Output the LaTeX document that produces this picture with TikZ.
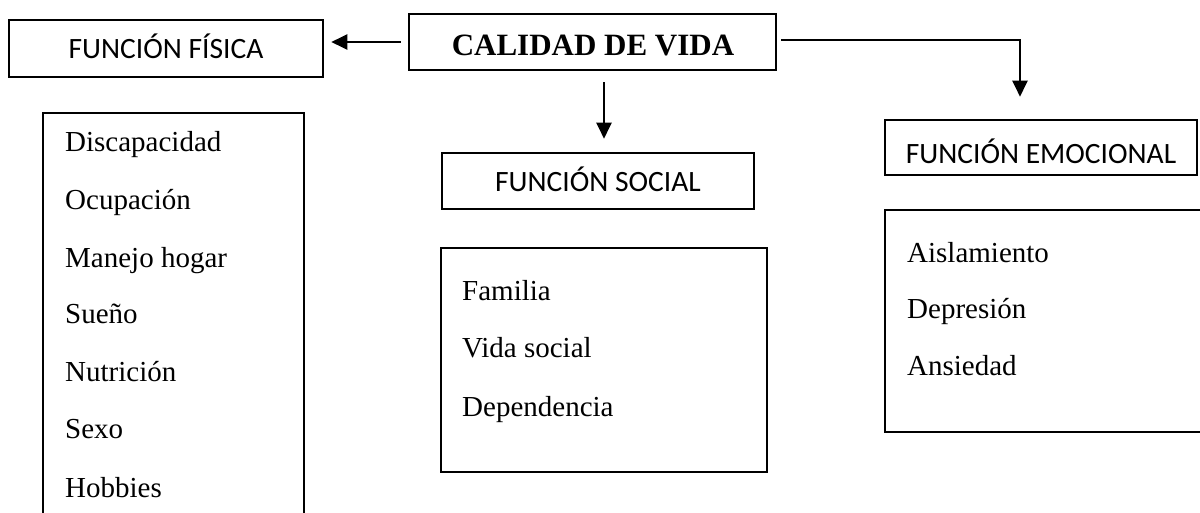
\documentclass[tikz,border=0pt]{standalone}
\usepackage{fontspec}
\setmainfont{Liberation Serif}
\newfontfamily\headfont{Carlito}
\usetikzlibrary{arrows.meta}
\tikzset{
  boxframe/.style={draw, line width=2.6pt, inner sep=0pt, minimum width=#1},
  headtxt/.style={anchor=base, inner sep=0pt, font=\headfont\fontsize{29.5}{30}\selectfont},
  itemtxt/.style={anchor=base west, inner sep=0pt, font=\fontsize{29}{30}\selectfont},
  conn/.style={line width=2.2pt, -{Triangle[length=16pt,width=15pt]}}
}
\begin{document}
\begin{tikzpicture}[x=1pt,y=-1pt]
\useasboundingbox (0,0) rectangle (1200,512);
% heading boxes
\node[boxframe=314pt, minimum height=57pt] (ff) at (166,48.5) {};
\node[boxframe=367pt, minimum height=56pt] (cal) at (592.5,42) {};
\node[boxframe=312pt, minimum height=56pt] (fs) at (598,181) {};
\node[boxframe=312pt, minimum height=55pt] (fe) at (1041,147.5) {};
% heading texts
\node[headtxt] (ffT) at (166,58.3) {FUNCIÓN FÍSICA};
\node[anchor=base, inner sep=0pt, font=\bfseries\fontsize{31}{32}\selectfont] (calT) at (593,55) {CALIDAD DE VIDA};
\node[headtxt] (fsT) at (598,191.7) {FUNCIÓN SOCIAL};
\node[headtxt] (feT) at (1041,163) {FUNCIÓN EMOCIONAL};
% list boxes
\node[boxframe=261pt, minimum height=417pt] (lf) at (173.5,321.5) {};
\node[boxframe=326pt, minimum height=224pt] (ls) at (604,360) {};
\node[boxframe=330pt, minimum height=222pt] (le) at (1050,321) {};
% list items
\node[itemtxt] (f1) at (65,151.5) {Discapacidad};
\node[itemtxt] (f2) at (65,209) {Ocupación};
\node[itemtxt] (f3) at (65,267) {Manejo hogar};
\node[itemtxt] (f4) at (65,323) {Sueño};
\node[itemtxt] (f5) at (65,381) {Nutrición};
\node[itemtxt] (f6) at (65,438) {Sexo};
\node[itemtxt] (f7) at (65,497) {Hobbies};
\node[itemtxt] (s1) at (462,300) {Familia};
\node[itemtxt] (s2) at (462,357) {Vida social};
\node[itemtxt] (s3) at (462,416) {Dependencia};
\node[itemtxt] (e1) at (907,262) {Aislamiento};
\node[itemtxt] (e2) at (907,318) {Depresión};
\node[itemtxt] (e3) at (907,375) {Ansiedad};
% connectors
\draw[conn, shorten <=7pt, shorten >=7pt] (cal.west) -- (cal.west -| ff.east);
\draw[conn, shorten <=11pt, shorten >=13pt] (cal.south -| 604,0) -- (fs.north -| 604,0);
\draw[conn, shorten <=4pt, shorten >=22pt] ([yshift=2pt]cal.east) -- ([yshift=2pt]cal.east -| 1020,0) -- (fe.north -| 1020,0);
\end{tikzpicture}
\end{document}
